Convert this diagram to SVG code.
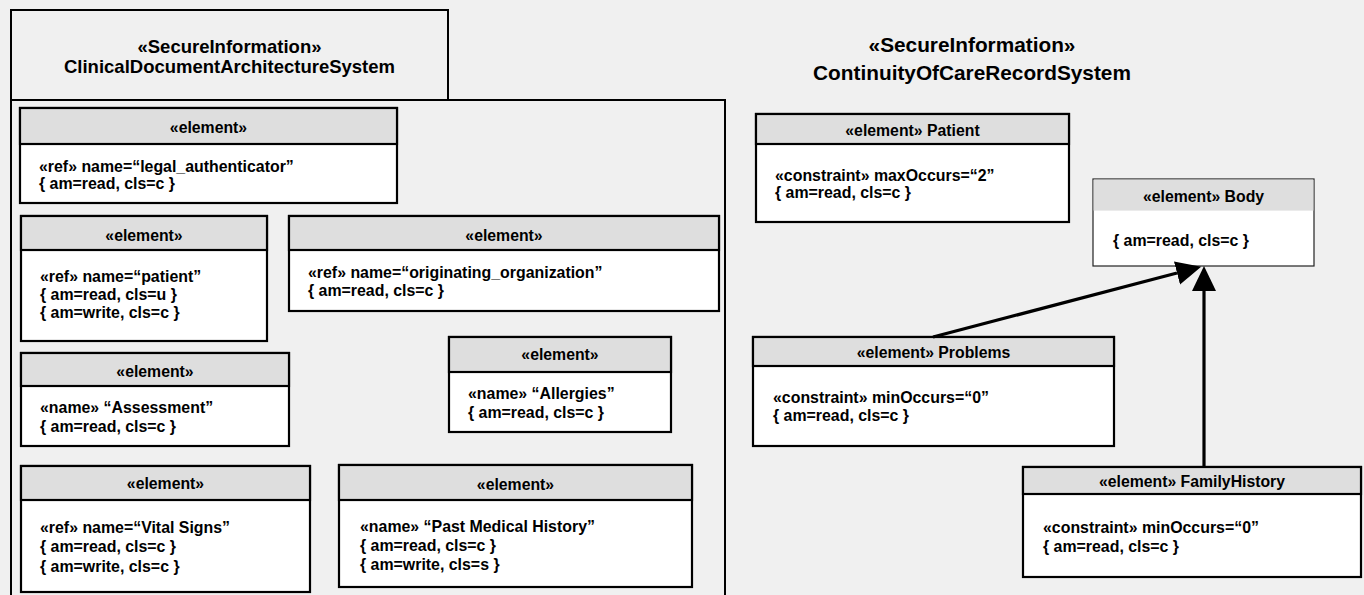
<svg xmlns="http://www.w3.org/2000/svg" width="1364" height="595" viewBox="0 0 1364 595">
  <style>
    text { font-family: "Liberation Sans", Arial, Helvetica, sans-serif; font-weight: bold; fill: #000; }
    .title { font-size: 18.5px; text-anchor: middle; }
    .title2 { font-size: 20.8px; text-anchor: middle; }
    .hd { font-size: 15.8px; text-anchor: middle; }
    .tx { font-size: 15.9px; }
    .pkg { fill: #f0f0f0; stroke: #000; stroke-width: 2; }
    .box { fill: #fff; stroke: #000; stroke-width: 2.2; }
    .head { fill: #dedede; stroke: #000; stroke-width: 2.2; }
    .thinbox { fill: #fff; stroke: #222; stroke-width: 1.2; }
    .thinhead { fill: #dedede; stroke: none; }
    .edge { fill: none; stroke: #000; stroke-width: 3.2; }
  </style>
  <defs>
    <marker id="arrow" markerUnits="userSpaceOnUse" markerWidth="27" markerHeight="26" viewBox="0 -13 27 26" refX="0" refY="0" orient="auto">
      <path d="M0,-12 L25,0 L0,12 z" fill="#000"/>
    </marker>
  </defs>

  <rect x="0" y="0" width="1364" height="595" fill="#f0f0f0"/>

  <!-- package: ClinicalDocumentArchitectureSystem -->
  <g id="cda-package">
    <rect class="pkg" x="11" y="100" width="714" height="520"/>
    <rect class="pkg" x="11" y="10" width="437" height="90"/>
    <text class="title" x="229.5" y="53">«SecureInformation»</text>
    <text class="title" x="229.5" y="73">ClinicalDocumentArchitectureSystem</text>
  </g>

  <g id="el-legal-authenticator">
    <rect class="box" x="20" y="108" width="377" height="95"/>
    <rect class="head" x="20" y="108" width="377" height="36"/>
    <text class="hd" x="208.5" y="133">«element»</text>
    <text class="tx" x="39" y="172">«ref» name=“legal_authenticator”</text>
    <text class="tx" x="39" y="189">{ am=read, cls=c }</text>
  </g>

  <g id="el-patient-ref">
    <rect class="box" x="21" y="216" width="246" height="125"/>
    <rect class="head" x="21" y="216" width="246" height="34"/>
    <text class="hd" x="144" y="241">«element»</text>
    <text class="tx" x="40" y="282">«ref» name=“patient”</text>
    <text class="tx" x="40" y="300">{ am=read, cls=u }</text>
    <text class="tx" x="40" y="318">{ am=write, cls=c }</text>
  </g>

  <g id="el-originating-organization">
    <rect class="box" x="289" y="216" width="430" height="95"/>
    <rect class="head" x="289" y="216" width="430" height="34"/>
    <text class="hd" x="504" y="241">«element»</text>
    <text class="tx" x="308" y="278">«ref» name=“originating_organization”</text>
    <text class="tx" x="308" y="296">{ am=read, cls=c }</text>
  </g>

  <g id="el-assessment">
    <rect class="box" x="21" y="353" width="268" height="93"/>
    <rect class="head" x="21" y="353" width="268" height="33"/>
    <text class="hd" x="155" y="377">«element»</text>
    <text class="tx" x="40" y="413">«name» “Assessment”</text>
    <text class="tx" x="40" y="432">{ am=read, cls=c }</text>
  </g>

  <g id="el-allergies">
    <rect class="box" x="449" y="337" width="222" height="95"/>
    <rect class="head" x="449" y="337" width="222" height="35"/>
    <text class="hd" x="560" y="360">«element»</text>
    <text class="tx" x="468" y="399">«name» “Allergies”</text>
    <text class="tx" x="468" y="418">{ am=read, cls=c }</text>
  </g>

  <g id="el-vital-signs">
    <rect class="box" x="21" y="466" width="289" height="126"/>
    <rect class="head" x="21" y="466" width="289" height="34"/>
    <text class="hd" x="165.5" y="489">«element»</text>
    <text class="tx" x="40" y="533">«ref» name=“Vital Signs”</text>
    <text class="tx" x="40" y="552">{ am=read, cls=c }</text>
    <text class="tx" x="40" y="572">{ am=write, cls=c }</text>
  </g>

  <g id="el-past-medical-history">
    <rect class="box" x="339" y="465" width="353" height="122"/>
    <rect class="head" x="339" y="465" width="353" height="35"/>
    <text class="hd" x="515.5" y="490">«element»</text>
    <text class="tx" x="360" y="532">«name» “Past Medical History”</text>
    <text class="tx" x="360" y="551">{ am=read, cls=c }</text>
    <text class="tx" x="360" y="570">{ am=write, cls=s }</text>
  </g>

  <!-- package: ContinuityOfCareRecordSystem -->
  <g id="ccr-package">
    <text class="title2" x="972" y="52">«SecureInformation»</text>
    <text class="title2" x="972" y="80">ContinuityOfCareRecordSystem</text>
  </g>

  <g id="el-patient">
    <rect class="box" x="756" y="114" width="313" height="108"/>
    <rect class="head" x="756" y="114" width="313" height="30"/>
    <text class="hd" x="912.5" y="136">«element» Patient</text>
    <text class="tx" x="775" y="181">«constraint» maxOccurs=“2”</text>
    <text class="tx" x="775" y="198">{ am=read, cls=c }</text>
  </g>

  <g id="el-body">
    <rect class="thinbox" x="1093" y="179" width="221" height="87"/>
    <rect class="thinhead" x="1093.6" y="179.6" width="219.8" height="31"/>
    <text class="hd" x="1203.5" y="202">«element» Body</text>
    <text class="tx" x="1113" y="246">{ am=read, cls=c }</text>
  </g>

  <g id="el-problems">
    <rect class="box" x="753" y="337" width="361" height="109"/>
    <rect class="head" x="753" y="337" width="361" height="29"/>
    <text class="hd" x="933.5" y="358">«element» Problems</text>
    <text class="tx" x="773" y="403">«constraint» minOccurs=“0”</text>
    <text class="tx" x="773" y="421">{ am=read, cls=c }</text>
  </g>

  <g id="el-family-history">
    <rect class="box" x="1023" y="467" width="338" height="110"/>
    <rect class="head" x="1023" y="467" width="338" height="27"/>
    <text class="hd" x="1192" y="487">«element» FamilyHistory</text>
    <text class="tx" x="1043" y="533">«constraint» minOccurs=“0”</text>
    <text class="tx" x="1043" y="552">{ am=read, cls=c }</text>
  </g>

  <!-- connectors -->
  <g id="connectors">
    <path class="edge" d="M933,337 L1177,273" marker-end="url(#arrow)"/>
    <path class="edge" d="M1204,467 L1204,291" marker-end="url(#arrow)"/>
  </g>
</svg>
